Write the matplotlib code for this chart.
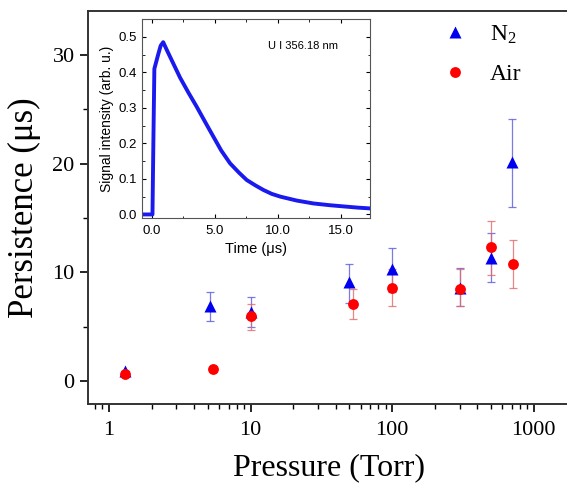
import matplotlib
matplotlib.use("Agg")
import matplotlib.pyplot as plt
from matplotlib.ticker import MultipleLocator, FixedLocator
from matplotlib.lines import Line2D

plt.rcParams["font.family"] = ["Liberation Serif", "DejaVu Serif"]
plt.rcParams["mathtext.fontset"] = "custom"
plt.rcParams["mathtext.rm"] = "Liberation Serif"
plt.rcParams["mathtext.it"] = "Liberation Serif:italic"

# persistence vs pressure
n2_p = [1.3, 5.2, 10, 50, 100, 300, 500, 700]
n2_t = [0.9, 6.9, 6.4, 9.1, 10.3, 8.6, 11.3, 20.1]
n2_lo = [0.0, 1.4, 1.4, 1.9, 2.1, 1.7, 2.2, 4.1]
n2_hi = [0.0, 1.3, 1.3, 1.7, 1.9, 1.8, 2.3, 4.0]

air_p = [1.3, 5.4, 10, 53, 100, 300, 500, 720]
air_t = [0.7, 1.1, 6.0, 7.1, 8.6, 8.5, 12.3, 10.8]
air_lo = [0.0, 0.0, 1.3, 1.4, 1.7, 1.6, 2.5, 2.2]
air_hi = [0.0, 0.0, 1.1, 1.4, 1.7, 1.8, 2.4, 2.2]

# inset: U I 356.18 nm emission trace
trace_t = [-0.6, 0.05, 0.12, 0.2, 0.35, 0.5, 0.7, 0.9, 1.2, 1.7, 2.24, 2.9,
           3.56, 4.2, 4.88, 5.5, 6.2, 6.9, 7.52, 8.2, 8.84, 9.5, 10.2, 11.5,
           12.8, 14.1, 15.4, 16.4, 17.3]
trace_v = [0.0, 0.0, 0.2, 0.41, 0.43, 0.45, 0.475, 0.485, 0.462, 0.425, 0.385,
           0.343, 0.303, 0.262, 0.219, 0.18, 0.144, 0.118, 0.097, 0.082, 0.069,
           0.058, 0.05, 0.039, 0.031, 0.026, 0.022, 0.019, 0.017]

fig = plt.figure(figsize=(5.67, 4.84), dpi=100)
ax = fig.add_axes([0.155, 0.165, 0.85, 0.812])

ax.errorbar(n2_p, n2_t, yerr=[n2_lo, n2_hi], fmt="none", ecolor="#5a5ae0",
            elinewidth=0.9, capsize=3, capthick=0.9, alpha=0.8, zorder=2)
ax.errorbar(air_p, air_t, yerr=[air_lo, air_hi], fmt="none", ecolor="#e06a6a",
            elinewidth=0.9, capsize=3, capthick=0.9, alpha=0.8, zorder=2)
ax.plot(n2_p, n2_t, "^", color="#0000ee", ms=9, mec="none", zorder=3)
ax.plot(air_p, air_t, "o", color="#ff0000", ms=7.8, mec="none", zorder=4)

ax.set_xscale("log")
ax.set_xlim(0.71, 1800)
ax.set_ylim(-2.1, 34)
ax.set_xticks([1, 10, 100, 1000])
ax.set_xticklabels(["1", "10", "100", "1000"])
ax.yaxis.set_major_locator(FixedLocator([0, 10, 20, 30]))
ax.yaxis.set_minor_locator(FixedLocator([5, 15, 25]))
ax.tick_params(axis="both", which="major", direction="out", length=6,
               width=1.2, labelsize=16)
ax.tick_params(axis="x", which="major", pad=6)
ax.tick_params(axis="both", which="minor", direction="out", length=3.5, width=1)
ax.spines["right"].set_visible(False)
for s in ("left", "bottom", "top"):
    ax.spines[s].set_linewidth(1.4)
    ax.spines[s].set_color("#333333")
ax.set_xlabel("Pressure (Torr)", fontsize=23, labelpad=10)
ax.set_ylabel("Persistence (μs)", fontsize=25, labelpad=8)

handles = [Line2D([], [], ls="none", marker="^", color="#0000ee", ms=9, mec="none"),
           Line2D([], [], ls="none", marker="o", color="#ff0000", ms=7.8, mec="none")]
ax.legend(handles, ["N$_2$", "Air"], loc="upper left", frameon=False,
          bbox_to_anchor=(0.724, 0.995), bbox_transform=fig.transFigure,
          fontsize=17, handletextpad=0.45, labelspacing=0.75)

# inset
ins = fig.add_axes([0.250, 0.5496, 0.4026, 0.411])
ins.plot(trace_t, trace_v, color="#1a1aee", lw=2.8)
ins.set_xlim(-0.8, 17.3)
ins.set_ylim(-0.01, 0.55)
ins.xaxis.set_minor_locator(MultipleLocator(2.5))
ins.yaxis.set_minor_locator(MultipleLocator(0.05))
ins.set_xticks([0, 5, 10, 15])
ins.set_xticklabels(["0.0", "5.0", "10.0", "15.0"], family="Liberation Sans")
ins.set_yticks([0, 0.1, 0.2, 0.3, 0.4, 0.5])
ins.set_yticklabels(["0.0", "0.1", "0.2", "0.3", "0.4", "0.5"], family="Liberation Sans")
ins.tick_params(which="both", direction="in", top=True, right=True, labelsize=9.5)
ins.tick_params(which="major", length=3)
ins.tick_params(which="minor", length=1.8)
ins.tick_params(axis="x", which="major", pad=5)
for s in ins.spines.values():
    s.set_color("#555555")
ins.set_xlabel("Time (μs)", family="Liberation Sans", fontsize=10.5, labelpad=4)
ins.set_ylabel("Signal intensity (arb. u.)", family="Liberation Sans", fontsize=10, labelpad=3)
ins.text(0.553, 0.865, "U I 356.18 nm", transform=ins.transAxes, family="Liberation Sans",
         fontsize=8, va="center")

fig.savefig("out.png", dpi=100)
